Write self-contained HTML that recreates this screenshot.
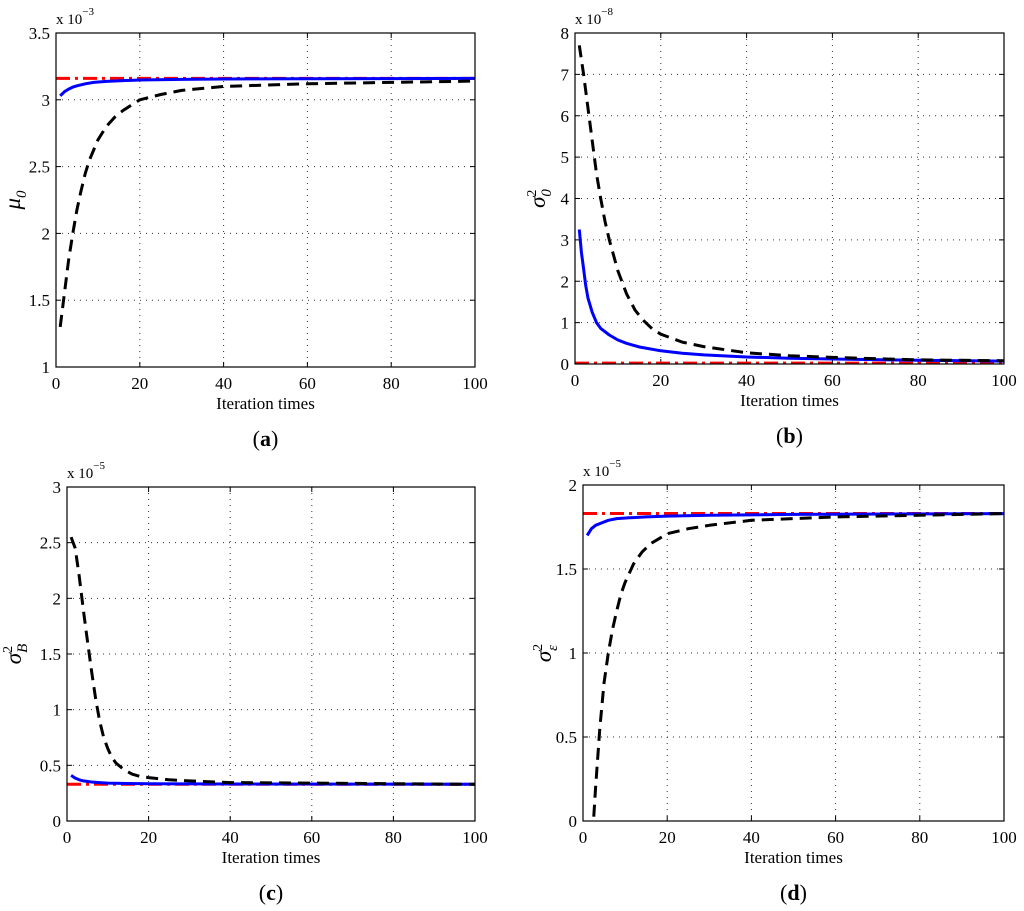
<!DOCTYPE html>
<html><head><meta charset="utf-8"><style>
body{margin:0;background:#fff}
svg text{font-family:"Liberation Serif",serif;fill:#000}
</style></head><body>
<svg id="fig" width="1024" height="906" viewBox="0 0 1024 906"></svg>
<script>
const xTicks=[0,20,40,60,80,100];
// panel a
const aX=[1,2,3,4,5,7,9,12,16,20,30,40,60,80,100];
const aBlue=[3.03,3.06,3.08,3.095,3.105,3.12,3.13,3.138,3.144,3.148,3.153,3.156,3.158,3.159,3.16];
const aBlackX=[1,2,3,4,5,6,7,8,10,12,14,16,18,20,25,30,40,50,60,80,100];
const aBlack=[1.3,1.55,1.8,2.0,2.18,2.32,2.45,2.55,2.7,2.8,2.87,2.92,2.96,3.0,3.04,3.07,3.1,3.11,3.12,3.13,3.14];
const aRed=3.16;
const aYTicks=[1,1.5,2,2.5,3,3.5];
// panel b
const bX=[1,1.5,2,2.5,3,4,5,6,8,10,12,15,20,25,30,40,50,60,80,100];
const bBlue=[3.25,2.7,2.3,1.9,1.6,1.25,1.0,0.86,0.7,0.58,0.5,0.41,0.32,0.26,0.22,0.17,0.14,0.12,0.09,0.07];
const bBlackX=[1,2,3,4,5,6,7,8,10,12,14,16,18,20,25,30,40,50,60,80,100];
const bBlack=[7.7,7.0,6.2,5.4,4.6,4.0,3.45,3.0,2.25,1.7,1.3,1.05,0.85,0.72,0.53,0.42,0.27,0.2,0.16,0.1,0.08];
const bRed=0.02;
const bYTicks=[0,1,2,3,4,5,6,7,8];
// panel c
const cX=[1,2,3,4,6,8,10,15,20,40,100];
const cBlue=[0.41,0.385,0.37,0.36,0.35,0.345,0.34,0.337,0.335,0.332,0.33];
const cBlackX=[1,2,3,4,5,6,7,8,9,10,11,12,14,16,18,20,25,30,40,60,100];
const cBlack=[2.55,2.45,2.2,1.9,1.62,1.35,1.1,0.9,0.75,0.65,0.57,0.52,0.46,0.42,0.4,0.39,0.37,0.36,0.345,0.34,0.33];
const cRed=0.33;
const cYTicks=[0,0.5,1,1.5,2,2.5,3];
// panel d
const dX=[1,2,3,4,6,8,11,15,20,30,50,100];
const dBlue=[1.70,1.74,1.76,1.77,1.79,1.80,1.805,1.81,1.815,1.82,1.825,1.83];
const dBlackX=[2,3,4,5,6,7,8,9,10,12,14,16,18,20,25,30,40,60,80,100];
const dBlack=[-0.2,0.2,0.55,0.82,1.0,1.14,1.25,1.35,1.42,1.53,1.6,1.65,1.68,1.71,1.74,1.76,1.79,1.81,1.82,1.83];
const dRed=1.83;
const dYTicks=[0,0.5,1,1.5,2];

const NS="http://www.w3.org/2000/svg";
const svg=document.getElementById('fig');
function mk(tag,attrs,parent,txt){const e=document.createElementNS(NS,tag);for(const k in attrs)e.setAttribute(k,attrs[k]);if(txt!==undefined)e.textContent=txt;(parent||svg).appendChild(e);return e;}

function panel(id,L,R,T,B,ymin,ymax,yTicks,exp,ylab,ysub,ysup,lab,series,yOff){
  const g=mk('g',{});
  
  
  const sx=v=>L+(v-0)/(100-0)*(R-L);
  const sy=v=>B-(v-ymin)/(ymax-ymin)*(B-T);
  const cp=mk('clipPath',{id:'clip'+id},g);
  mk('rect',{x:L,y:T,width:R-L,height:B-T},cp);
  xTicks.forEach(t=>{
    if(t>0&&t<100){const l=mk('line',{x1:sx(t),x2:sx(t),y1:T,y2:B,stroke:'#333','stroke-width':1,'stroke-dasharray':'1 5'},g);
    }
    mk('line',{x1:sx(t),x2:sx(t),y1:B,y2:B-5,stroke:'#000'},g);
    mk('line',{x1:sx(t),x2:sx(t),y1:T,y2:T+5,stroke:'#000'},g);
    const tx=mk('text',{x:sx(t),y:B+22,'text-anchor':'middle','font-size':17},g,String(t));
    
  });
  yTicks.forEach(t=>{
    if(t>ymin&&t<ymax){const l=mk('line',{x1:L,x2:R,y1:sy(t),y2:sy(t),stroke:'#333','stroke-width':1,'stroke-dasharray':'1 5'},g);
    }
    mk('line',{x1:L,x2:L+5,y1:sy(t),y2:sy(t),stroke:'#000'},g);
    mk('line',{x1:R,x2:R-5,y1:sy(t),y2:sy(t),stroke:'#000'},g);
    const tx=mk('text',{x:L-6,y:sy(t)+6,'text-anchor':'end','font-size':17},g,String(t));
    
  });
  const sg=mk('g',{'clip-path':'url(#clip'+id+')'},g);
  const rl=mk('line',{x1:sx(0),x2:sx(100),y1:sy(series.red),y2:sy(series.red),stroke:'#f00','stroke-width':3,'stroke-dasharray':'14 5 3 5'},sg);
  
  const pts=(xs,ys)=>xs.map((x,i)=>sx(x).toFixed(1)+','+sy(ys[i]).toFixed(1)).join(' ');
  const bl=mk('polyline',{points:pts(series.bx,series.blue),fill:'none',stroke:'#00f','stroke-width':3,'stroke-linejoin':'round'},sg);
  
  const kl=mk('polyline',{points:pts(series.kx,series.black),fill:'none',stroke:'#000','stroke-width':3,'stroke-dasharray':'12 7','stroke-linejoin':'round'},sg);
  
  const fr=mk('rect',{x:L,y:T,width:R-L,height:B-T,fill:'none',stroke:'#000','stroke-width':1.2},g);
  
  const e=mk('text',{x:L,y:T-9,'font-size':15},g);
  
  mk('tspan',{},e,'x 10');mk('tspan',{dy:-9,'font-size':11},e,'\u2212'+exp);
  const cx=(L+R)/2;
  const xt=mk('text',{x:cx,y:B+42,'text-anchor':'middle','font-size':17},g,'Iteration times');
  
  const yy=(T+B)/2;
  const yt=mk('text',{x:0,y:0,'font-size':23,'font-style':'italic',transform:`translate(${L-yOff},${yy}) rotate(-90)`,'text-anchor':'middle'},g);
  
  mk('tspan',{},yt,ylab);
  if(ysup)mk('tspan',{dy:-9,'font-size':14,'font-style':'normal'},yt,ysup);
  mk('tspan',{dy:ysup?15:6,dx:ysup?-7:0,'font-size':15},yt,ysub);
  const pl=mk('text',{x:cx,y:B+79,'text-anchor':'middle','font-size':22},g);
  
  mk('tspan',{},pl,'(');mk('tspan',{'font-weight':'bold'},pl,lab);mk('tspan',{},pl,')');
}
panel('a',56,475,33,367,1,3.5,aYTicks,'3','\u03bc','0','','a',{red:aRed,bx:aX,blue:aBlue,kx:aBlackX,black:aBlack},36);
panel('b',575,1004,33,364,0,8,bYTicks,'8','\u03c3','0','2','b',{red:bRed,bx:bX,blue:bBlue,kx:bBlackX,black:bBlack},30);
panel('c',67,475,487,821,0,3,cYTicks,'5','\u03c3','B','2','c',{red:cRed,bx:cX,blue:cBlue,kx:cBlackX,black:cBlack},46);
panel('d',583,1004,485,821,0,2,dYTicks,'5','\u03c3','\u03b5','2','d',{red:dRed,bx:dX,blue:dBlue,kx:dBlackX,black:dBlack},32);
</script>
</body></html>
